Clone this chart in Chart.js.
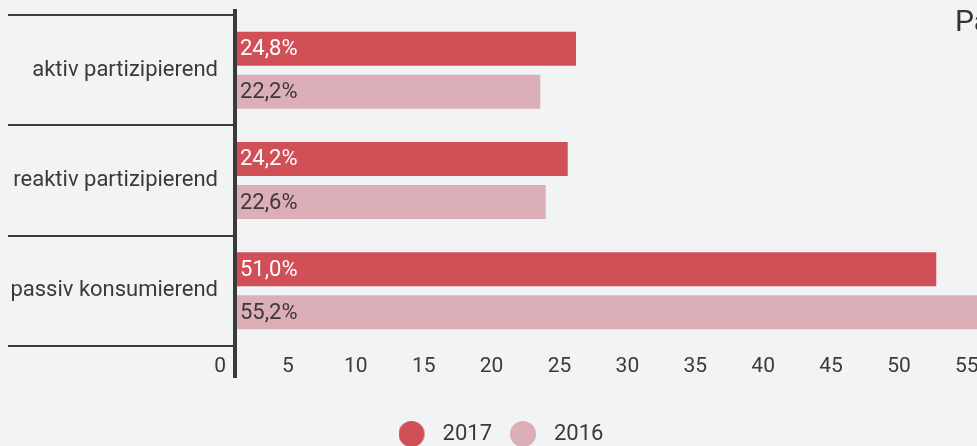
<!DOCTYPE html>
<html>
<head>
<meta charset="utf-8">
<script src="https://cdn.jsdelivr.net/npm/chart.js@4/dist/chart.umd.min.js"></script>
<style>
  html, body { margin: 0; padding: 0; background: #f2f3f5; overflow: hidden; }
  #wrap { position: relative; width: 1000px; height: 455px; }
  #title { position: absolute; left: 955px; top: 6px; font: 30px/1 Roboto, sans-serif; color: #333; white-space: nowrap; }
</style>
</head>
<body>
<div id="wrap">
  <canvas id="chart" width="1000" height="455"></canvas>
  <div id="title">Partizipation</div>
</div>
<script>
const categories = ['aktiv partizipierend', 'reaktiv partizipierend', 'passiv konsumierend'];
const values2017 = [24.8, 24.2, 51.0];
const values2016 = [22.2, 22.6, 55.2];
const seriesNames = ['2017', '2016'];
const tickStep = 5;

const red = '#d14f56';
const pink = '#dcaeb7';
const ink = '#3a3a3a';
const font = 'Roboto, sans-serif';

// legend marker: circle sitting at the left of a wider box
function dot(color) {
  const c = document.createElement('canvas');
  c.width = 33; c.height = 26;
  const g = c.getContext('2d');
  g.fillStyle = color;
  g.beginPath();
  g.arc(13, 13, 13, 0, Math.PI * 2);
  g.fill();
  return c;
}
const dots = [dot(red), dot(pink)];

const zeroLine = {
  id: 'zeroLine',
  afterDatasetsDraw(chart) {
    const {ctx, chartArea} = chart;
    const x = chart.scales.x.getPixelForValue(0);
    ctx.save();
    ctx.strokeStyle = ink;
    ctx.lineWidth = 4;
    ctx.beginPath();
    ctx.moveTo(x, chartArea.top - 6);
    ctx.lineTo(x, chartArea.bottom + 32);
    ctx.stroke();
    ctx.restore();
  }
};

const barLabels = {
  id: 'barLabels',
  afterDatasetsDraw(chart) {
    const {ctx} = chart;
    ctx.save();
    ctx.font = '22px ' + font;
    ctx.textBaseline = 'middle';
    ctx.textAlign = 'left';
    chart.data.datasets.forEach((ds, i) => {
      ctx.fillStyle = i === 0 ? '#fff' : ink;
      chart.getDatasetMeta(i).data.forEach((bar, j) => {
        const txt = ds.data[j].toFixed(1).replace('.', ',') + '%';
        ctx.fillText(txt, bar.base + 5, bar.y + 1);
      });
    });
    ctx.restore();
  }
};

new Chart(document.getElementById('chart'), {
  type: 'bar',
  data: {
    labels: categories,
    datasets: [
      { label: seriesNames[0], data: values2017, backgroundColor: red },
      { label: seriesNames[1], data: values2016, backgroundColor: pink }
    ]
  },
  options: {
    indexAxis: 'y',
    responsive: false,
    animation: false,
    categoryPercentage: 0.78,
    barPercentage: 0.79,
    layout: { padding: { left: 8, top: 15, right: 6 } },
    scales: {
      y: {
        border: { display: false },
        grid: { offset: true, drawOnChartArea: false, tickLength: 227, tickColor: ink, lineWidth: 2 },
        ticks: { padding: -210, color: ink, font: { family: font, size: 22 } },
        afterFit(s) { s.width = 227; }
      },
      x: { display: false, min: 0, max: 55.2 },
      // tick labels sit on their own slightly tighter scale, 0 left of the axis line
      x2: {
        type: 'linear',
        position: 'bottom',
        min: 1.1,
        max: 57,
        border: { display: false },
        grid: { display: false, drawTicks: false },
        ticks: { stepSize: tickStep, includeBounds: false, autoSkip: false, maxRotation: 0, padding: 8, color: ink, font: { family: font, size: 21 } },
        afterBuildTicks(s) { s.ticks.unshift({ value: 0 }); },
        afterFit(s) { s.height = 59; }
      }
    },
    plugins: {
      tooltip: { enabled: false },
      legend: {
        position: 'bottom',
        labels: {
          usePointStyle: true,
          pointStyleWidth: 33,
          padding: 18,
          color: ink,
          font: { family: font, size: 22 },
          generateLabels(chart) {
            return Chart.defaults.plugins.legend.labels.generateLabels(chart)
              .map((it, i) => Object.assign(it, { pointStyle: dots[i] }));
          }
        }
      }
    }
  },
  plugins: [zeroLine, barLabels]
});
</script>
</body>
</html>
